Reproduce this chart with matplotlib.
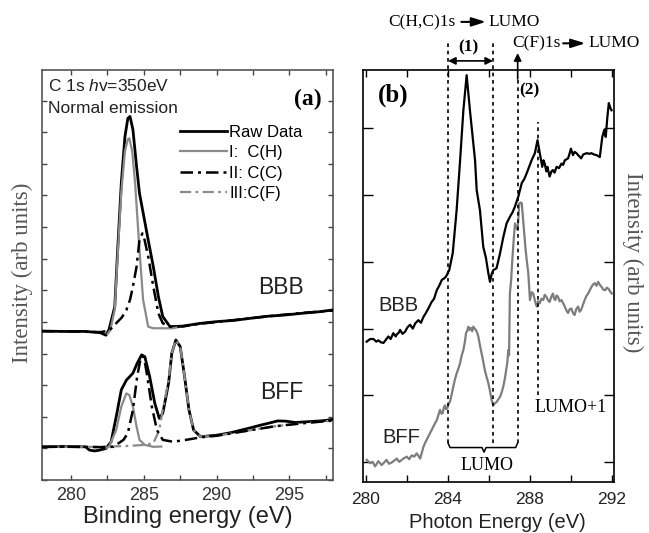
import matplotlib
matplotlib.use("Agg")
import matplotlib.pyplot as plt
from matplotlib.ticker import MultipleLocator, FixedLocator, NullFormatter

plt.rcParams['font.family'] = ['Liberation Sans', 'DejaVu Sans']
plt.rcParams['mathtext.fontset'] = 'custom'
plt.rcParams['mathtext.it'] = 'Liberation Sans:italic'
plt.rcParams['mathtext.rm'] = 'Liberation Sans'

SERIF = ['Liberation Serif', 'DejaVu Serif']

# ---------------- Panel (a): C 1s XPS ----------------
bbb_raw_x = [278.0, 279.5, 281.0, 282.0, 282.4, 282.6, 283.0, 283.2, 283.45, 283.7,
             283.9, 284.05, 284.25, 284.5, 284.7, 285.0, 285.3, 285.65, 286.0, 286.3,
             286.8, 287.7, 288.8, 290.0, 291.2, 292.4, 293.5, 294.7, 296.0, 297.0, 298.0]
bbb_raw_y = [4.71, 4.70, 4.70, 4.66, 4.58, 4.75, 5.48, 7.28, 9.39, 10.86,
             11.44, 11.50, 11.08, 9.92, 9.07, 8.33, 7.59, 6.75, 5.80, 5.17,
             4.85, 4.87, 4.95, 5.01, 5.05, 5.12, 5.18, 5.22, 5.28, 5.32, 5.38]

bbb_ch_x = [282.5, 282.7, 283.0, 283.2, 283.45, 283.7, 283.9, 284.0, 284.2, 284.4,
            284.7, 284.95, 285.3, 285.65, 287.0, 287.6]
bbb_ch_y = [4.62, 4.74, 5.40, 7.10, 9.10, 10.40, 10.78, 10.81, 10.40, 9.39,
            7.28, 5.70, 4.85, 4.80, 4.80, 4.86]

bbb_cc_x = [278.0, 280.0, 282.0, 282.6, 283.1, 283.5, 283.8, 284.05, 284.25, 284.5,
            284.7, 284.9, 285.0, 285.3, 285.65, 286.0, 286.3, 286.8, 287.7, 289.0,
            290.0, 292.0, 294.0, 296.0, 298.0]
bbb_cc_y = [4.71, 4.70, 4.68, 4.72, 4.96, 5.15, 5.38, 5.70, 6.12, 6.75,
            7.59, 7.80, 7.70, 7.07, 6.12, 5.27, 4.96, 4.85, 4.86, 4.95,
            5.00, 5.10, 5.20, 5.29, 5.36]

bff_raw_x = [278.0, 279.5, 281.0, 281.25, 281.6, 281.9, 282.4, 282.75, 283.1, 283.45,
             283.8, 284.25, 284.54, 284.85, 285.07, 285.4, 285.75, 286.06, 286.3, 286.7,
             286.92, 287.2, 287.5, 287.8, 288.1, 288.42, 288.9, 290.05, 291.0, 291.7,
             292.4, 293.06, 293.6, 294.2, 294.8, 295.4, 296.1, 296.8, 297.4, 298.0]
bff_raw_y = [1.05, 1.06, 1.05, 0.95, 0.92, 0.94, 1.00, 1.21, 2.00, 2.85,
             3.16, 3.38, 3.69, 3.96, 3.90, 3.27, 2.43, 1.95, 2.11, 3.06,
             4.01, 4.43, 4.22, 3.27, 2.22, 1.58, 1.37, 1.42, 1.50, 1.58,
             1.66, 1.74, 1.80, 1.87, 1.86, 1.82, 1.84, 1.86, 1.88, 1.92]

bff_ch_x = [282.4, 282.6, 283.1, 283.45, 283.8, 284.0, 284.25, 284.5, 284.7, 285.07,
            285.65, 286.2]
bff_ch_y = [1.02, 1.05, 1.58, 2.32, 2.74, 2.69, 2.32, 1.69, 1.27, 1.11,
            1.05, 1.06]

bff_cc_x = [278.0, 280.0, 282.0, 282.9, 283.6, 283.9, 284.25, 284.54, 284.8, 285.0,
            285.2, 285.55, 285.9, 286.3, 287.0, 287.9, 288.9, 290.0, 292.0, 294.0,
            296.0, 298.0]
bff_cc_y = [1.05, 1.05, 1.04, 1.05, 1.27, 1.48, 2.22, 3.27, 3.90, 3.90,
            3.38, 2.32, 1.58, 1.27, 1.21, 1.27, 1.35, 1.40, 1.55, 1.70,
            1.80, 1.88]

bff_cf_x = [278.0, 280.0, 282.0, 284.0, 285.0, 285.65, 286.06, 286.3, 286.7, 286.92,
            287.2, 287.5, 287.8, 288.1, 288.42, 288.9, 290.0, 292.0, 294.0, 296.0, 298.0]
bff_cf_y = [1.05, 1.05, 1.05, 1.08, 1.11, 1.16, 1.58, 2.22, 3.16, 4.01,
            4.43, 4.22, 3.27, 2.22, 1.58, 1.37, 1.40, 1.55, 1.70, 1.80, 1.88]

legend_labels = ["Raw Data", "I:  C(H)", "II: C(C)", "III:C(F)"]
xticks_a = [280, 285, 290, 295]

# ---------------- Panel (b): NEXAFS ----------------
bbb_b_x = [280.03, 280.2, 280.36, 280.5, 280.6, 280.72, 280.85, 280.97, 281.09, 281.2,
           281.33, 281.45, 281.5, 281.6, 281.66, 281.78, 281.9, 282.02, 282.15, 282.28,
           282.4, 282.55, 282.68, 282.8, 282.92, 283.04, 283.2, 283.32, 283.45, 283.57,
           283.7, 283.8, 283.9, 284.06, 284.23, 284.42, 284.59, 284.75, 284.91, 285.07,
           285.32, 285.4, 285.56, 285.72, 285.85, 285.97, 286.05, 286.13, 286.21, 286.37,
           286.54, 286.7, 286.86, 287.02, 287.15, 287.27, 287.43, 287.6, 287.72, 287.84,
           287.96, 288.08, 288.24, 288.37, 288.48, 288.6, 288.66, 288.72, 288.8, 288.85,
           288.96, 289.05, 289.12, 289.2, 289.3, 289.42, 289.54, 289.62, 289.7, 289.86,
           289.93, 290.0, 290.1, 290.18, 290.27, 290.38, 290.5, 290.6, 290.77, 290.9,
           291.0, 291.12, 291.25, 291.41, 291.53, 291.63, 291.7, 291.78, 291.85, 291.92,
           291.98]
bbb_b_y = [2.16, 2.20, 2.20, 2.16, 2.18, 2.15, 2.14, 2.19, 2.24, 2.20,
           2.29, 2.24, 2.27, 2.30, 2.34, 2.28, 2.31, 2.38, 2.42, 2.36,
           2.44, 2.49, 2.45, 2.54, 2.60, 2.67, 2.77, 2.82, 2.95, 3.02,
           3.11, 3.13, 3.16, 3.26, 3.52, 4.18, 4.95, 5.72, 6.26, 5.72,
           4.95, 4.49, 4.18, 3.62, 3.45, 3.21, 3.08, 3.20, 3.26, 3.29,
           3.52, 3.77, 3.98, 4.08, 4.15, 4.24, 4.39, 4.60, 4.66, 4.75,
           4.85, 4.95, 5.06, 5.26, 5.06, 4.85, 4.95, 4.90, 4.78, 4.85,
           4.70, 4.78, 4.80, 4.76, 4.85, 4.83, 4.90, 4.88, 4.95, 4.98,
           5.05, 5.13, 5.03, 5.08, 5.06, 5.02, 4.98, 5.04, 5.06, 5.05,
           5.06, 5.04, 5.03, 5.00, 5.31, 5.42, 5.31, 5.62, 5.83, 5.76,
           5.72]

bff_b_x = [280.03, 280.2, 280.32, 280.44, 280.6, 280.76, 280.88, 281.0, 281.12, 281.25,
           281.38, 281.5, 281.62, 281.74, 281.87, 281.99, 282.1, 282.23, 282.35, 282.47,
           282.56, 282.64, 282.72, 282.8, 282.88, 282.96, 283.04, 283.12, 283.2, 283.28,
           283.36, 283.45, 283.53, 283.61, 283.68, 283.74, 283.8, 283.85, 283.9, 283.96,
           284.03, 284.1, 284.18, 284.26, 284.34, 284.42, 284.5, 284.59, 284.67, 284.75,
           284.82, 284.88, 284.94, 284.99, 285.05, 285.12, 285.18, 285.23, 285.3, 285.36,
           285.42, 285.48, 285.56, 285.64, 285.72, 285.8, 285.88, 285.97, 286.05, 286.13,
           286.21, 286.29, 286.37, 286.45, 286.54, 286.62, 286.7, 286.78, 286.86, 286.9,
           286.94, 286.98, 287.02, 287.08, 287.14, 287.2, 287.27, 287.33, 287.4, 287.48,
           287.54, 287.6, 287.66, 287.72, 287.78, 287.84, 287.92, 288.0, 288.08, 288.16,
           288.25, 288.33, 288.4, 288.48, 288.56, 288.65, 288.72, 288.8, 288.88, 288.96,
           289.04, 289.12, 289.18, 289.24, 289.3, 289.37, 289.45, 289.54, 289.62, 289.7,
           289.78, 289.86, 289.94, 290.02, 290.1, 290.18, 290.26, 290.35, 290.42, 290.5,
           290.58, 290.67, 290.75, 290.84, 290.92, 291.0, 291.08, 291.17, 291.25, 291.33,
           291.42, 291.5, 291.58, 291.67, 291.75, 291.84, 291.92, 292.0]
bff_b_y = [0.34, 0.29, 0.31, 0.24, 0.32, 0.26, 0.30, 0.34, 0.28, 0.30,
           0.33, 0.36, 0.31, 0.34, 0.37, 0.39, 0.35, 0.41, 0.39, 0.44,
           0.40, 0.36, 0.45, 0.54, 0.60, 0.65, 0.70, 0.75, 0.80, 0.85,
           0.90, 0.95, 1.03, 1.11, 1.05, 1.06, 1.15, 1.18, 1.12, 1.13,
           1.20, 1.24, 1.35, 1.47, 1.58, 1.67, 1.74, 1.83, 1.95, 2.03,
           2.15, 2.29, 2.33, 2.39, 2.34, 2.37, 2.32, 2.39, 2.36, 2.34,
           2.30, 2.24, 2.10, 1.98, 1.85, 1.72, 1.62, 1.52, 1.40, 1.26,
           1.18, 1.21, 1.23, 1.27, 1.31, 1.38, 1.47, 1.60, 1.77, 1.85,
           2.03, 1.95, 2.90, 3.10, 3.42, 3.70, 3.98, 3.92, 3.88, 4.29,
           4.30, 4.29, 4.05, 3.83, 3.60, 3.42, 3.21, 2.80, 2.92, 2.90,
           2.78, 2.70, 2.78, 2.75, 2.82, 2.80, 2.88, 2.85, 2.80, 2.77,
           2.85, 2.90, 2.82, 2.80, 2.87, 2.85, 2.78, 2.80, 2.75, 2.70,
           2.64, 2.60, 2.66, 2.67, 2.60, 2.57, 2.66, 2.70, 2.62, 2.65,
           2.72, 2.80, 2.86, 2.90, 2.95, 3.00, 3.04, 3.06, 3.02, 3.08,
           3.03, 3.00, 2.96, 2.95, 2.99, 2.97, 2.93, 2.90]

xticks_b_major = [280, 284, 288, 292]
# annotation energies (eV)
e_hc, e_lumo_mid, e_cf, e_lumo1 = 284.0, 286.2, 287.4, 288.4

GRAY = '#8a8a8a'
DASHDOT = (0, (5, 2, 1.2, 2))

fig = plt.figure(figsize=(6.49, 5.33), dpi=100)
ax1 = fig.add_axes([0.0647, 0.0994, 0.4484, 0.7693])
ax2 = fig.add_axes([0.5593, 0.0957, 0.3867, 0.7730])

# ---- panel (a) ----
l_raw, = ax1.plot(bbb_raw_x, bbb_raw_y, color='k', lw=2.0, zorder=4)
ax1.plot(bff_raw_x, bff_raw_y, color='k', lw=2.0, zorder=4)
l_ch, = ax1.plot(bbb_ch_x, bbb_ch_y, color=GRAY, lw=1.6, zorder=5)
ax1.plot(bff_ch_x, bff_ch_y, color=GRAY, lw=1.6, zorder=5)
l_cc, = ax1.plot(bbb_cc_x, bbb_cc_y, color='k', lw=1.8, ls=DASHDOT, zorder=6)
ax1.plot(bff_cc_x, bff_cc_y, color='k', lw=1.8, ls=DASHDOT, zorder=6)
ax1.plot(bff_cf_x, bff_cf_y, color=GRAY, lw=1.6, ls=DASHDOT, zorder=5)
l_cf_leg, = ax1.plot([], [], color=GRAY, lw=1.6, ls=DASHDOT)

ax1.set_xlim(278, 298)
ax1.set_ylim(0, 12.97)
ax1.xaxis.set_major_locator(FixedLocator(xticks_a))
ax1.xaxis.set_minor_locator(MultipleLocator(2.5))
ax1.yaxis.set_major_locator(MultipleLocator(1))
ax1.yaxis.set_major_formatter(NullFormatter())
ax1.tick_params(which='both', direction='in', top=True, right=True, length=3.5,
                width=1.0, color='#444444')
ax1.tick_params(axis='x', labelsize=13, pad=5, labelcolor='#333333')
for s in ax1.spines.values():
    s.set_color('#555555')
    s.set_linewidth(1.2)

ax1.legend([l_raw, l_ch, l_cc, l_cf_leg], legend_labels, loc='upper left',
           bbox_to_anchor=(0.474, 0.866), frameon=False, fontsize=12,
           handlelength=2.8, handletextpad=0.15, labelspacing=0.32,
           borderpad=0, borderaxespad=0)

ax1.text(0.02, 0.962, r"C 1s $h$v=350eV", transform=ax1.transAxes, fontsize=12.5,
         ha='left', va='center', color='#222222')
ax1.text(0.02, 0.906, "Normal emission", transform=ax1.transAxes, fontsize=12.5,
         ha='left', va='center', color='#222222')
ax1.text(296.3, 12.03, "(a)", fontsize=17, fontweight='bold', family=SERIF,
         ha='center', va='center')
ax1.text(294.45, 6.08, "BBB", fontsize=16.5, ha='center', va='center', color='#222222')
ax1.text(294.45, 2.78, "BFF", fontsize=16.5, ha='center', va='center', color='#222222')

fig.text(0.290, 1 - 517 / 533, "Binding energy (eV)", fontsize=17, ha='center',
         va='center', color='#222222')
fig.text(0.034, 1 - 273 / 533, "Intensity (arb units)", fontsize=16.5, family=SERIF,
         rotation=90, ha='center', va='center', color='#555555')

# ---- panel (b) ----
ax2.plot(bbb_b_x, bbb_b_y, color='k', lw=1.6, zorder=4)
ax2.plot(bff_b_x, bff_b_y, color='#7d7d7d', lw=1.6, zorder=4)
ax2.set_xlim(279.85, 292.1)
ax2.set_ylim(0, 6.34)
ax2.xaxis.set_major_locator(FixedLocator(xticks_b_major))
ax2.xaxis.set_minor_locator(MultipleLocator(2))
ax2.yaxis.set_major_locator(FixedLocator([0.31, 1.34, 2.36, 3.39, 4.42, 5.44]))
ax2.yaxis.set_major_formatter(NullFormatter())
ax2.tick_params(axis='x', which='both', direction='in', top=True, length=5, width=1.0)
ax2.tick_params(axis='y', direction='in', right=True, length=7, width=1.0)
ax2.tick_params(axis='x', labelsize=12.5, pad=7, labelcolor='#222222')
for s in ax2.spines.values():
    s.set_linewidth(1.2)

dot = (0, (2.2, 2.2))
for xe, y0, y1 in [(e_hc, 0.60, 6.80), (e_lumo_mid, 0.60, 6.80),
                   (e_cf, 0.60, 6.25), (e_lumo1, 1.34, 5.54)]:
    ax2.plot([xe, xe], [y0, y1], color='k', lw=1.2, ls=dot, clip_on=False, zorder=6)

ax2.annotate('', xy=(e_hc, 6.48), xytext=(e_lumo_mid, 6.48),
             arrowprops=dict(arrowstyle='<|-|>', color='k', lw=1.2, mutation_scale=11,
                             shrinkA=0, shrinkB=0), annotation_clip=False)
ax2.annotate('', xy=(e_cf, 6.60), xytext=(e_cf, 6.2),
             arrowprops=dict(arrowstyle='-|>', color='k', lw=1.2, mutation_scale=11,
                             shrinkA=0, shrinkB=0), annotation_clip=False)

# brace under LUMO
bx = [e_hc, e_hc + 0.1, 285.66, 285.76, 285.86, e_cf - 0.1, e_cf]
by = [0.60, 0.53, 0.53, 0.46, 0.53, 0.53, 0.60]
ax2.plot(bx, by, color='k', lw=1.1, zorder=6)

# transition labels: text + bold arrow + text
def transition(x_left, x_a0, x_a1, x_lumo, y, label):
    ax2.text(x_left, y, label, fontsize=12.5, family=SERIF, ha='left', va='center',
             clip_on=False)
    ax2.annotate('', xy=(x_a1, y), xytext=(x_a0, y),
                 arrowprops=dict(arrowstyle='-|>,head_length=0.7,head_width=0.22',
                                 color='k', lw=1.5, mutation_scale=12,
                                 shrinkA=0, shrinkB=0), annotation_clip=False)
    ax2.text(x_lumo, y, "LUMO", fontsize=12.5, family=SERIF, ha='left', va='center',
             clip_on=False)

transition(281.07, 284.65, 285.85, 285.95, 7.08, "C(H,C)1s")
transition(287.12, 289.62, 290.7, 290.85, 6.75, "C(F)1s")

ax2.text(285.0, 6.68, "(1)", fontsize=12.5, fontweight='bold', family=SERIF,
         ha='center', va='center', clip_on=False)
ax2.text(287.95, 6.03, "(2)", fontsize=12.5, fontweight='bold', family=SERIF,
         ha='center', va='center')
ax2.text(281.3, 5.95, "(b)", fontsize=18, fontweight='bold', family=SERIF,
         ha='center', va='center')
ax2.text(290.0, 1.15, "LUMO+1", fontsize=13, family=SERIF, ha='center', va='center')
ax2.text(285.9, 0.26, "LUMO", fontsize=13, family=SERIF, ha='center', va='center')
ax2.text(281.6, 2.72, "BBB", fontsize=14.5, ha='center', va='center', color='#222222')
ax2.text(281.7, 0.68, "BFF", fontsize=14.5, ha='center', va='center', color='#222222')

fig.text(497 / 649, 1 - 523 / 533, "Photon Energy (eV)", fontsize=14.5, ha='center',
         va='center', color='#222222')
fig.text(633 / 649, 1 - 262 / 533, "Intensity (arb units)", fontsize=16.5, family=SERIF,
         rotation=270, ha='center', va='center', color='#555555')

fig.savefig("out.png", dpi=100)
